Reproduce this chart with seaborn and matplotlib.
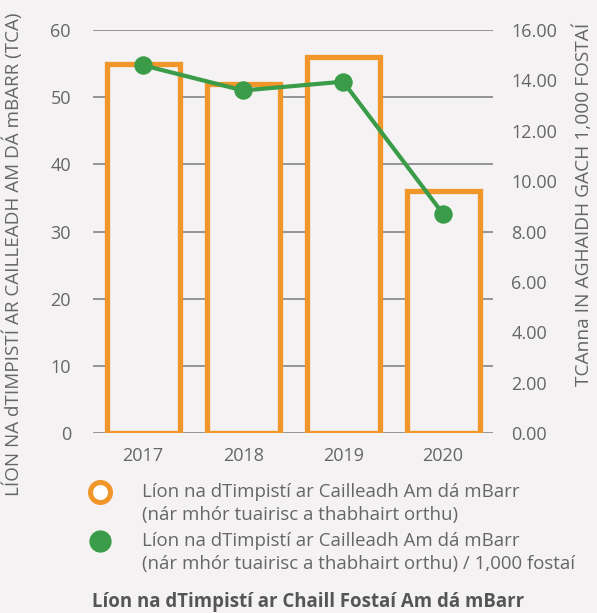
import pandas as pd
import seaborn as sns
import matplotlib.pyplot as plt
from matplotlib.lines import Line2D

years = ['2017', '2018', '2019', '2020']
accidents = [55, 52, 56, 36]
rate_per_1000 = [14.6, 13.6, 13.95, 8.7]

legend_labels = [
    'Líon na dTimpistí ar Cailleadh Am dá mBarr\n(nár mhór tuairisc a thabhairt orthu)',
    'Líon na dTimpistí ar Cailleadh Am dá mBarr\n(nár mhór tuairisc a thabhairt orthu) / 1,000 fostaí',
]

bg = '#f4f2f2'
orange = '#f0962a'
green = '#3a9c48'
grey = '#666666'

df = pd.DataFrame({'year': years, 'accidents': accidents, 'rate': rate_per_1000})

sns.set_style('white')
plt.rcParams['font.family'] = ['Open Sans', 'DejaVu Sans']

fig = plt.figure(figsize=(5.97, 6.13), dpi=100, facecolor=bg)
ax = fig.add_axes([0.156, 0.2936, 0.67, 0.6574], facecolor=bg)

sns.barplot(data=df, x='year', y='accidents', ax=ax, color=bg, edgecolor=orange,
            linewidth=3.8, width=0.73, saturation=1)
ax.set_ylim(0, 60)
ax.set_xlim(-0.5, 3.5)
ax.set_yticks(range(0, 61, 10))
ax.yaxis.grid(True, color='#7a7a7a', linewidth=1.1)
ax.set_axisbelow(True)
for s in ax.spines.values():
    s.set_visible(False)
ax.set_xlabel('')
ax.set_ylabel('')
ax.tick_params(axis='x', length=0, labelsize=13, labelcolor=grey, pad=10)
ax.tick_params(axis='y', length=0, labelsize=13, labelcolor=grey, pad=16)

ax2 = ax.twinx()
sns.pointplot(data=df, x='year', y='rate', ax=ax2, color=green, markers='o',
              markersize=11, linewidth=3)
ax2.set_ylim(0, 16)
ax2.set_xlim(-0.5, 3.5)
ax2.set_yticks(range(0, 17, 2))
ax2.set_yticklabels([f'{v:.2f}' for v in range(0, 17, 2)])
for s in ax2.spines.values():
    s.set_visible(False)
ax2.set_ylabel('')
ax2.set_xlabel('')
ax2.tick_params(axis='y', length=0, labelsize=13, labelcolor=grey, pad=13)

fig.text(0.022, 0.586, 'LÍON NA dTIMPISTÍ AR CAILLEADH AM DÁ mBARR (TCA)', rotation=90,
         ha='center', va='center', fontsize=13.6, color=grey)
fig.text(0.977, 0.667, 'TCAnna IN AGHAIDH GACH 1,000 FOSTAÍ', rotation=90,
         ha='center', va='center', fontsize=13.8, color=grey)

# legend drawn by hand so the marker sits next to the first line
fig.add_artist(Line2D([0.1675], [0.1974], linestyle='', marker='o', markersize=14.4,
                      markerfacecolor='white', markeredgecolor=orange, markeredgewidth=3.6))
fig.add_artist(Line2D([0.1675], [0.1175], linestyle='', marker='o', markersize=15,
                      markerfacecolor=green, markeredgecolor=green))
fig.text(0.238, 0.2115, legend_labels[0], va='top', ha='left', fontsize=13.4,
         color=grey, linespacing=1.3)
fig.text(0.238, 0.1315, legend_labels[1], va='top', ha='left', fontsize=13.4,
         color=grey, linespacing=1.3)

fig.text(0.154, 0.018, 'Líon na dTimpistí ar Chaill Fostaí Am dá mBarr',
         fontsize=13.4, fontweight='bold', color='#555555', va='center')

fig.savefig('out.png', dpi=100, facecolor=bg)
